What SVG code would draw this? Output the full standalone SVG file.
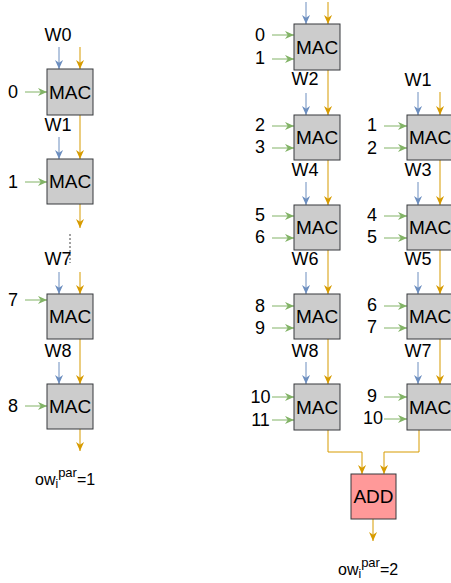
<svg xmlns="http://www.w3.org/2000/svg" width="451" height="583" viewBox="0 0 451 583">
<style>
text{font-family:"Liberation Sans",Arial,sans-serif;fill:#000;}
.box{fill:#cccccc;stroke:#36393d;stroke-width:1;}
.add{fill:#ff9999;stroke:#36393d;stroke-width:1;}
.bt{font-size:19px;text-anchor:middle;}
.lb{font-size:18px;text-anchor:middle;}
.ow{font-size:16px;}
.b{stroke:#6c8ebf;stroke-width:1;fill:none;marker-end:url(#ab);}
.o{stroke:#d79b00;stroke-width:1;fill:none;marker-end:url(#ao);}
.g{stroke:#82b366;stroke-width:1;fill:none;marker-end:url(#ag);}
.dot{stroke:#444;stroke-width:1;stroke-dasharray:2 2;fill:none;}
</style>
<defs>
<marker id="ab" viewBox="0 0 10 10" refX="10" refY="5" markerWidth="9" markerHeight="9" markerUnits="userSpaceOnUse" orient="auto"><path d="M0,0.5 L10,5 L0,9.5 L3,5 z" fill="#6c8ebf"/></marker>
<marker id="ao" viewBox="0 0 10 10" refX="10" refY="5" markerWidth="9" markerHeight="9" markerUnits="userSpaceOnUse" orient="auto"><path d="M0,0.5 L10,5 L0,9.5 L3,5 z" fill="#d79b00"/></marker>
<marker id="ag" viewBox="0 0 10 10" refX="10" refY="5" markerWidth="9" markerHeight="9" markerUnits="userSpaceOnUse" orient="auto"><path d="M0,0.5 L10,5 L0,9.5 L3,5 z" fill="#82b366"/></marker>
</defs>

<g id="connectors">
<line class="b" x1="59" y1="47" x2="59" y2="69"/>
<line class="o" x1="80" y1="47" x2="80" y2="69"/>
<line class="g" x1="25" y1="92" x2="47" y2="92"/>
<line class="b" x1="59" y1="137" x2="59" y2="159"/>
<line class="o" x1="80" y1="115" x2="80" y2="159"/>
<line class="g" x1="25" y1="182" x2="47" y2="182"/>
<line class="o" x1="80" y1="204" x2="80" y2="228"/>
<line class="dot" x1="70" y1="234" x2="70" y2="263"/>
<line class="b" x1="59" y1="272" x2="59" y2="294"/>
<line class="o" x1="80" y1="272" x2="80" y2="294"/>
<line class="g" x1="25" y1="300" x2="47" y2="300"/>
<line class="b" x1="59" y1="362" x2="59" y2="384"/>
<line class="o" x1="80" y1="339" x2="80" y2="384"/>
<line class="g" x1="25" y1="406" x2="47" y2="406"/>
<line class="o" x1="80" y1="429" x2="80" y2="451"/>
<line class="b" x1="306" y1="2" x2="306" y2="24"/>
<line class="o" x1="328" y1="2" x2="328" y2="24"/>
<line class="g" x1="272" y1="35" x2="294" y2="35"/>
<line class="g" x1="272" y1="59" x2="294" y2="59"/>
<line class="b" x1="306" y1="93" x2="306" y2="115"/>
<line class="o" x1="328" y1="70" x2="328" y2="115"/>
<line class="g" x1="272" y1="126" x2="294" y2="126"/>
<line class="g" x1="272" y1="148" x2="294" y2="148"/>
<line class="b" x1="306" y1="182" x2="306" y2="205"/>
<line class="o" x1="328" y1="160" x2="328" y2="205"/>
<line class="g" x1="272" y1="216" x2="294" y2="216"/>
<line class="g" x1="272" y1="238" x2="294" y2="238"/>
<line class="b" x1="306" y1="272" x2="306" y2="294"/>
<line class="o" x1="328" y1="250" x2="328" y2="294"/>
<line class="g" x1="272" y1="306" x2="294" y2="306"/>
<line class="g" x1="272" y1="328" x2="294" y2="328"/>
<line class="b" x1="306" y1="362" x2="306" y2="384"/>
<line class="o" x1="328" y1="339" x2="328" y2="384"/>
<line class="g" x1="272" y1="397" x2="294" y2="397"/>
<line class="g" x1="272" y1="420" x2="294" y2="420"/>
<line class="b" x1="418" y1="92" x2="418" y2="115"/>
<line class="o" x1="440" y1="92" x2="440" y2="115"/>
<line class="g" x1="384" y1="126" x2="407" y2="126"/>
<line class="g" x1="384" y1="148" x2="407" y2="148"/>
<line class="b" x1="418" y1="182" x2="418" y2="205"/>
<line class="o" x1="440" y1="160" x2="440" y2="205"/>
<line class="g" x1="384" y1="216" x2="407" y2="216"/>
<line class="g" x1="384" y1="238" x2="407" y2="238"/>
<line class="b" x1="418" y1="272" x2="418" y2="294"/>
<line class="o" x1="440" y1="250" x2="440" y2="294"/>
<line class="g" x1="384" y1="306" x2="407" y2="306"/>
<line class="g" x1="384" y1="328" x2="407" y2="328"/>
<line class="b" x1="418" y1="362" x2="418" y2="384"/>
<line class="o" x1="440" y1="339" x2="440" y2="384"/>
<line class="g" x1="384" y1="397" x2="407" y2="397"/>
<line class="g" x1="384" y1="419" x2="407" y2="419"/>
<path class="o" d="M328,430 V452 H362 V474"/>
<path class="o" d="M419,430 V452 H384 V474"/>
<line class="o" x1="373" y1="519" x2="373" y2="541"/>
</g>

<g id="left-labels">
<text class="lb" x="58" y="41">W0</text>
<text class="lb" x="13" y="98">0</text>
<text class="lb" x="58" y="131">W1</text>
<text class="lb" x="13" y="188">1</text>
<text class="lb" x="58" y="265">W7</text>
<text class="lb" x="13" y="306">7</text>
<text class="lb" x="58" y="357">W8</text>
<text class="lb" x="13" y="412">8</text>
<text class="ow" x="35" y="485">ow<tspan font-size="12" dy="3">i</tspan><tspan font-size="13" dy="-11">par</tspan><tspan dy="8">=1</tspan></text>
</g>

<g id="mac-l1"><rect class="box" x="47" y="69" width="46" height="46"/><text class="bt" x="70" y="99">MAC</text></g>
<g id="mac-l2"><rect class="box" x="47" y="159" width="46" height="45"/><text class="bt" x="70" y="188">MAC</text></g>
<g id="mac-l3"><rect class="box" x="47" y="294" width="46" height="45"/><text class="bt" x="70" y="323">MAC</text></g>
<g id="mac-l4"><rect class="box" x="47" y="384" width="46" height="45"/><text class="bt" x="70" y="413">MAC</text></g>

<g id="right-labels">
<text class="lb" x="260" y="41">0</text>
<text class="lb" x="260" y="64">1</text>
<text class="lb" x="305" y="85">W2</text>
<text class="lb" x="260" y="131">2</text>
<text class="lb" x="260" y="153">3</text>
<text class="lb" x="305" y="176">W4</text>
<text class="lb" x="260" y="221">5</text>
<text class="lb" x="260" y="243">6</text>
<text class="lb" x="305" y="265">W6</text>
<text class="lb" x="260" y="312">8</text>
<text class="lb" x="260" y="334">9</text>
<text class="lb" x="305" y="357">W8</text>
<text class="lb" x="260.5" y="403">10</text>
<text class="lb" x="260.5" y="426">11</text>
<text class="lb" x="418" y="86">W1</text>
<text class="lb" x="372" y="131">1</text>
<text class="lb" x="372" y="154">2</text>
<text class="lb" x="418" y="176">W3</text>
<text class="lb" x="372" y="221">4</text>
<text class="lb" x="372" y="243">5</text>
<text class="lb" x="418" y="265">W5</text>
<text class="lb" x="372" y="311">6</text>
<text class="lb" x="372" y="333">7</text>
<text class="lb" x="418" y="357">W7</text>
<text class="lb" x="372" y="402">9</text>
<text class="lb" x="373" y="424">10</text>
<text class="ow" x="338" y="575">ow<tspan font-size="12" dy="3">i</tspan><tspan font-size="13" dy="-11">par</tspan><tspan dy="8">=2</tspan></text>
</g>

<g id="mac-a1"><rect class="box" x="294" y="24" width="46" height="46"/><text class="bt" x="317" y="54">MAC</text></g>
<g id="mac-a2"><rect class="box" x="294" y="115" width="46" height="45"/><text class="bt" x="317" y="144">MAC</text></g>
<g id="mac-a3"><rect class="box" x="294" y="205" width="46" height="45"/><text class="bt" x="317" y="234">MAC</text></g>
<g id="mac-a4"><rect class="box" x="294" y="294" width="46" height="45"/><text class="bt" x="317" y="323">MAC</text></g>
<g id="mac-a5"><rect class="box" x="294" y="384" width="46" height="46"/><text class="bt" x="317" y="414">MAC</text></g>

<g id="mac-b1"><rect class="box" x="407" y="115" width="46" height="45"/><text class="bt" x="430" y="144">MAC</text></g>
<g id="mac-b2"><rect class="box" x="407" y="205" width="46" height="45"/><text class="bt" x="430" y="234">MAC</text></g>
<g id="mac-b3"><rect class="box" x="407" y="294" width="46" height="45"/><text class="bt" x="430" y="323">MAC</text></g>
<g id="mac-b4"><rect class="box" x="407" y="384" width="46" height="46"/><text class="bt" x="430" y="414">MAC</text></g>

<g id="add"><rect class="add" x="351" y="474" width="45" height="45"/><text class="bt" x="373.5" y="503">ADD</text></g>
</svg>
